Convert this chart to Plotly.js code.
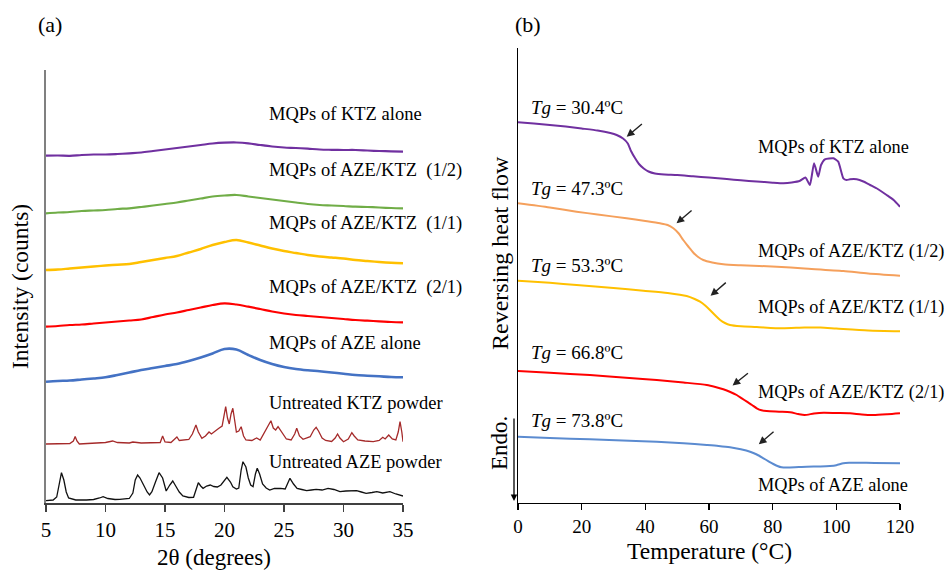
<!DOCTYPE html>
<html>
<head>
<meta charset="utf-8">
<script src="https://cdn.plot.ly/plotly-3.0.1.min.js"></script>
<style>html,body{margin:0;padding:0;background:#fff;}#chart{width:950px;height:573px;}</style>
</head>
<body>
<div id="chart"></div>
<script>
// ---------- Panel (a): XRD ----------
const twoTheta = [5,6,7,8,9,10,11,12,13,14,15,16,17,18,19,20,21,22,23,24,25,26,27,28,29,30,31,32,33,34,35];
const xrdKTZalone = [347.3,347.5,347.2,348,348.5,348.5,349,349.7,350.5,352,353.5,355,356.5,358,359.5,360.3,360.5,359.7,358,356.5,355.5,355,354.3,353.5,353.2,353,353,352.5,352,351.7,351.3];
const xrdAZEKTZ12 = [289.7,290.5,291,292,292.5,293,294,294.7,296,297.5,299,300.5,302.5,304.5,306.5,307.5,308,306.5,305,303.5,302,300.5,299,298,297.5,297,296.3,296,295.5,295,294.7];
const xrdAZEKTZ11 = [233,233.5,234.5,235.5,236.5,237.5,238.3,239,241,243,245,247,250.5,254,258,261,263,260.5,257.5,254.5,252,250,248,246.5,245.5,244.5,243,242,241,240.2,239.7];
const xrdAZEKTZ21 = [176.3,177,178,178.5,179.5,180.5,181.5,182.5,183.5,186,188.5,190.5,193,195.5,198,199.7,198.5,196.3,194,191.5,189.5,188,187,186,185,184,183,182.3,181.7,181,180.7];
const xrdAZEalone = [121.3,122,122.5,123.5,124.5,125.7,128,130.5,133,135,137,139,142,145.5,149.5,154,153.5,148,143,139,136,134,132.7,131.7,130.5,129.3,128,127.3,126.7,126,125.7];

const ktzPowderX = [5.0,6.0,7.0,7.3,7.45,7.6,7.8,8.5,9.5,10.0,10.6,11.0,12.0,12.3,13.0,14.0,14.6,14.8,15.0,15.5,16.0,16.2,16.6,17.0,17.3,17.6,17.8,18.1,18.4,18.7,18.9,19.2,19.5,19.8,20.0,20.1,20.25,20.4,20.55,20.7,20.85,21.0,21.2,21.4,21.6,21.8,22.3,22.7,23.0,23.3,23.6,23.9,24.1,24.3,24.5,24.7,24.9,25.2,25.6,25.9,26.07,26.3,26.6,26.9,27.2,27.5,27.7,27.9,28.2,28.5,29.0,29.3,29.5,29.7,30.0,30.4,30.7,30.9,31.2,31.8,32.5,33.0,33.3,33.5,33.8,34.1,34.4,34.6,34.75,34.9,35.0];
const ktzPowderY = [59,59.5,59.5,62,66.5,62,59,59.5,60,60.5,62,60.5,60,61,60,60,60.5,67,61,60.5,66,62.5,63,63.5,69,78,71,64.7,67,71,69,72,74.5,77,89,96.3,85,79,89,94.7,83,71,72,76.3,67,63,62.5,65,63,69,75,82.3,75,73,76.3,73,69,64,63,69,74.7,67,63.7,65,66.3,73,75.7,72,65,62.5,61.5,65,69,65,61.3,64,70.3,67,63,62,61.3,62.5,65.7,64,68,64,63,71,81.3,71,61.3];

const azePowderX = [5.0,5.6,5.9,6.1,6.3,6.5,6.7,6.9,7.5,8.4,9.0,9.5,9.8,10.2,10.8,11.2,12.0,12.3,12.5,12.7,12.9,13.2,13.5,13.7,13.9,14.2,14.5,14.8,15.1,15.4,15.65,15.9,16.2,16.5,17.0,17.4,17.6,17.8,18.0,18.2,18.5,18.8,19.1,19.4,19.7,20.0,20.2,20.5,20.7,21.0,21.2,21.4,21.55,21.8,22.0,22.2,22.4,22.6,22.75,22.95,23.2,23.5,23.8,24.2,24.7,25.1,25.3,25.5,25.8,26.1,26.5,26.9,27.3,27.7,28.2,28.7,29.2,29.7,30.2,30.7,31.1,31.5,31.9,32.4,32.8,33.3,33.9,34.4,35.0];
const azePowderY = [2.3,3,6,20,30.3,23,11,5,3,3,3.5,5,6.3,4.5,3.5,3.7,4.5,10,23,28,25,18,11,8,11.3,21,30.3,25,12,18,22,17,11,7,5.5,5.7,13,20.3,17,14.7,17,18,16.5,16,18,23,25.7,21,16.3,14,15,33,41.3,36,25,18,16.3,29,34.7,29,19,15,13,14.5,14.7,14,20,24.7,19,14.7,13.5,12.3,13,13.7,13,14.7,13.5,11.3,12,12.5,12.3,11,9.7,10.5,11.3,10,11.3,9,7];

const xrdLabels = ["MQPs of KTZ alone","MQPs of AZE/KTZ  (1/2)","MQPs of AZE/KTZ  (1/1)","MQPs of AZE/KTZ  (2/1)","MQPs of AZE alone","Untreated KTZ powder","Untreated AZE powder"];
const xrdLabelY = [388.5,332,279,216,160,100.5,41];

// ---------- Panel (b): DSC ----------
const tKTZ = [0,5,10,15,20,25,29,31,33,34.5,35.5,36.8,38,39.5,41,43,46,50,55,60,65.6,70,75,80,83.4,86,88.6,90.3,91.7,93.0,94.3,95.2,96.4,99.1,100.6,102.2,103.2,104.3,106.4,108.5,110.6,113,115.8,118,120];
const hfKTZ = [380.7,379.5,378,376.5,374.5,372.5,370,368,364.5,359.5,352,344.7,339,334.5,331.5,329.5,328.5,328,326.7,325.5,324,322.7,321.5,320.3,319.7,320.5,322.3,325.5,318,339.7,326.3,338,343.7,344.7,341.3,324.7,323,323.7,323.7,321.5,318,314,308,303,296.3];
const t12 = [0,10,18.4,25,34.1,40,44.6,47,48.8,50.5,51.9,53.5,55.1,56.6,58.2,61,64.5,70,81.3,90,102.2,110,120];
const hf12 = [299.7,295.5,291.3,288.5,284.7,282,279.7,278,274.7,269.5,263,256.5,250.3,246,243,240.5,238.7,237.7,236.3,234.5,232,229.5,227.3];
const t11 = [0,10,18.4,30,39.4,47,53,55.5,57.2,58.8,60.3,62,63.5,65,66.6,70,75,83,90,95,100,110,120];
const hf11 = [222.3,220.2,218,215,212.3,210,207,204,201.3,197.5,193,187.5,183,180,178,176.7,176,174.7,175.5,175.5,174.5,172.5,171.7];
const t21 = [0,10,22.6,35,43.6,52,59.3,62,64.5,66.7,68.7,70.3,71.9,73.5,75,76.5,78.1,82,85.5,88,90,93,96,100,104.3,108,111.6,116,120];
const hf21 = [132,130.2,128,125,123,120.5,118,116,113.7,111,108,104.7,101.3,98,94.7,92.7,92,91.3,90.7,89,88,89.5,90.3,90,89.7,88.5,88,88.7,89.7];
const tAZE = [0,10,22.6,35,43.6,52,59.3,63,66.6,70,72.9,75,77.1,78.7,80.2,81.5,82.8,85,90.7,95,98,100,102.2,104,106.4,112,120];
const hfAZE = [66.3,65,63.7,62.2,61.3,59.8,58,57,55.7,53.7,51.3,48.5,44.7,41.7,39,37,35.7,35.5,36.3,36.5,37,37.8,39.7,40.2,40.3,40,39.7];

const dscLabels = ["MQPs of KTZ alone","MQPs of AZE/KTZ (1/2)","MQPs of AZE/KTZ (1/1)","MQPs of AZE/KTZ (2/1)","MQPs of AZE alone"];
const dscLabelY = [356.5,251.3,195,110,18];
const tgTexts = ["30.4","47.3","53.3","66.8","73.8"];
const tgLabelY = [395,314.6,237.7,150,82.2];
// arrows: [headT, headHF, tailT, tailHF]
const tgArrows = [[34.15,366.3,39.4,380.3],[49.8,279.7,55.0,293.7],[60.5,207.2,65.75,221.7],[67.4,117.5,72.7,131],[75.65,58.7,80.75,72.6]];

const FONT = '"Liberation Serif", "Times New Roman", Times, serif';
function line(x,y,color,w,xa,ya,smooth){
  const ln = {color:color,width:w};
  if (smooth) { ln.shape='spline'; ln.smoothing=smooth; }
  return {x:x,y:y,mode:'lines',type:'scatter',line:ln,xaxis:xa,yaxis:ya,hoverinfo:'skip',showlegend:false};
}

const traces = [
  line(twoTheta,xrdKTZalone,'#7030A0',2.2,'x','y',1),
  line(twoTheta,xrdAZEKTZ12,'#70AD47',2.2,'x','y',1),
  line(twoTheta,xrdAZEKTZ11,'#FFC000',2.4,'x','y',1),
  line(twoTheta,xrdAZEKTZ21,'#FF0000',2.2,'x','y',1),
  line(twoTheta,xrdAZEalone,'#4472C4',2.6,'x','y',1),
  line(ktzPowderX,ktzPowderY,'#A52A2A',1.3,'x','y',0),
  line(azePowderX,azePowderY,'#111111',1.3,'x','y',0),
  line(tKTZ,hfKTZ,'#7030A0',2,'x2','y2',0.5),
  line(t12,hf12,'#F5A05C',2,'x2','y2',0.7),
  line(t11,hf11,'#FFC000',2,'x2','y2',0.7),
  line(t21,hf21,'#FF0000',2,'x2','y2',0.7),
  line(tAZE,hfAZE,'#5B8BD0',2,'x2','y2',0.7)
];

const ann = [];
xrdLabels.forEach((t,i)=>ann.push({xref:'x',yref:'y',x:23.57,y:xrdLabelY[i],text:t,showarrow:false,xanchor:'left',yanchor:'middle',font:{family:FONT,size:18.5,color:'#000'}}));
dscLabels.forEach((t,i)=>ann.push({xref:'x2',yref:'y2',x:74.8,y:dscLabelY[i],text:t,showarrow:false,xanchor:'left',yanchor:'middle',font:{family:FONT,size:18.3,color:'#000'}}));
tgTexts.forEach((t,i)=>ann.push({xref:'x2',yref:'y2',x:3.3,y:tgLabelY[i],text:'<i>Tg</i> = '+t+'ºC',showarrow:false,xanchor:'left',yanchor:'middle',font:{family:FONT,size:19,color:'#000'}}));
tgArrows.forEach(a=>ann.push({xref:'x2',yref:'y2',axref:'x2',ayref:'y2',x:a[0],y:a[1],ax:a[2],ay:a[3],text:'',showarrow:true,arrowhead:2,arrowsize:1.1,arrowwidth:1.4,arrowcolor:'#222',standoff:0,startstandoff:0}));
// panel labels & axis titles
ann.push({xref:'paper',yref:'paper',x:50/950,y:1-24/573,text:'(a)',showarrow:false,xanchor:'center',yanchor:'middle',font:{family:FONT,size:22,color:'#000'}});
ann.push({xref:'paper',yref:'paper',x:528/950,y:1-24/573,text:'(b)',showarrow:false,xanchor:'center',yanchor:'middle',font:{family:FONT,size:22,color:'#000'}});
ann.push({xref:'paper',yref:'paper',x:214/950,y:1-557/573,text:'2θ (degrees)',showarrow:false,xanchor:'center',yanchor:'middle',font:{family:FONT,size:23,color:'#000'}});
ann.push({xref:'paper',yref:'paper',x:709/950,y:1-551/573,text:'Temperature (°C)',showarrow:false,xanchor:'center',yanchor:'middle',font:{family:FONT,size:23.5,color:'#000'}});
ann.push({xref:'paper',yref:'paper',x:20/950,y:1-287/573,text:'Intensity (counts)',textangle:-90,showarrow:false,xanchor:'center',yanchor:'middle',font:{family:FONT,size:23.5,color:'#000'}});
ann.push({xref:'paper',yref:'paper',x:500/950,y:1-253/573,text:'Reversing heat flow',textangle:-90,showarrow:false,xanchor:'center',yanchor:'middle',font:{family:FONT,size:24,color:'#000'}});
ann.push({xref:'paper',yref:'paper',x:500/950,y:1-443/573,text:'Endo.',textangle:-90,showarrow:false,xanchor:'center',yanchor:'middle',font:{family:FONT,size:23,color:'#000'}});
ann.push({xref:'paper',yref:'paper',x:514/950,y:1-501/573,ax:0,ay:-84,text:'',showarrow:true,arrowhead:2,arrowsize:1,arrowwidth:1.3,arrowcolor:'#000',standoff:0});

const layout = {
  width:950,height:573,margin:{l:0,r:0,t:0,b:0},
  paper_bgcolor:'#fff',plot_bgcolor:'rgba(0,0,0,0)',showlegend:false,
  font:{family:FONT,color:'#000'},
  xaxis:{domain:[46/950,403/950],range:[5,35],anchor:'y',showgrid:false,zeroline:false,showline:true,linecolor:'#404040',linewidth:1.5,
    ticks:'outside',ticklen:7,tickwidth:1.3,tickcolor:'#404040',tickvals:[5,10,15,20,25,30,35],tickfont:{family:FONT,size:21,color:'#000'},ticklabelstandoff:0},
  yaxis:{domain:[1-503/573,1-70/573],range:[0,433],anchor:'x',showgrid:false,zeroline:false,showline:true,linecolor:'#808080',linewidth:2,ticks:'',showticklabels:false},
  xaxis2:{domain:[518/950,900/950],range:[0,120],anchor:'y2',showgrid:false,zeroline:false,showline:true,linecolor:'#000',linewidth:1.3,
    ticks:'outside',ticklen:6,tickwidth:1.2,tickcolor:'#000',tickvals:[0,20,40,60,80,100,120],tickfont:{family:FONT,size:19,color:'#000'},ticklabelstandoff:0},
  yaxis2:{domain:[1-503/573,1-47.6/573],range:[0,455.4],anchor:'x2',showgrid:false,zeroline:false,showline:true,linecolor:'#000',linewidth:1.3,ticks:'',showticklabels:false},
  annotations:ann
};
Plotly.newPlot('chart',traces,layout,{staticPlot:true,displayModeBar:false});
</script>
</body>
</html>
